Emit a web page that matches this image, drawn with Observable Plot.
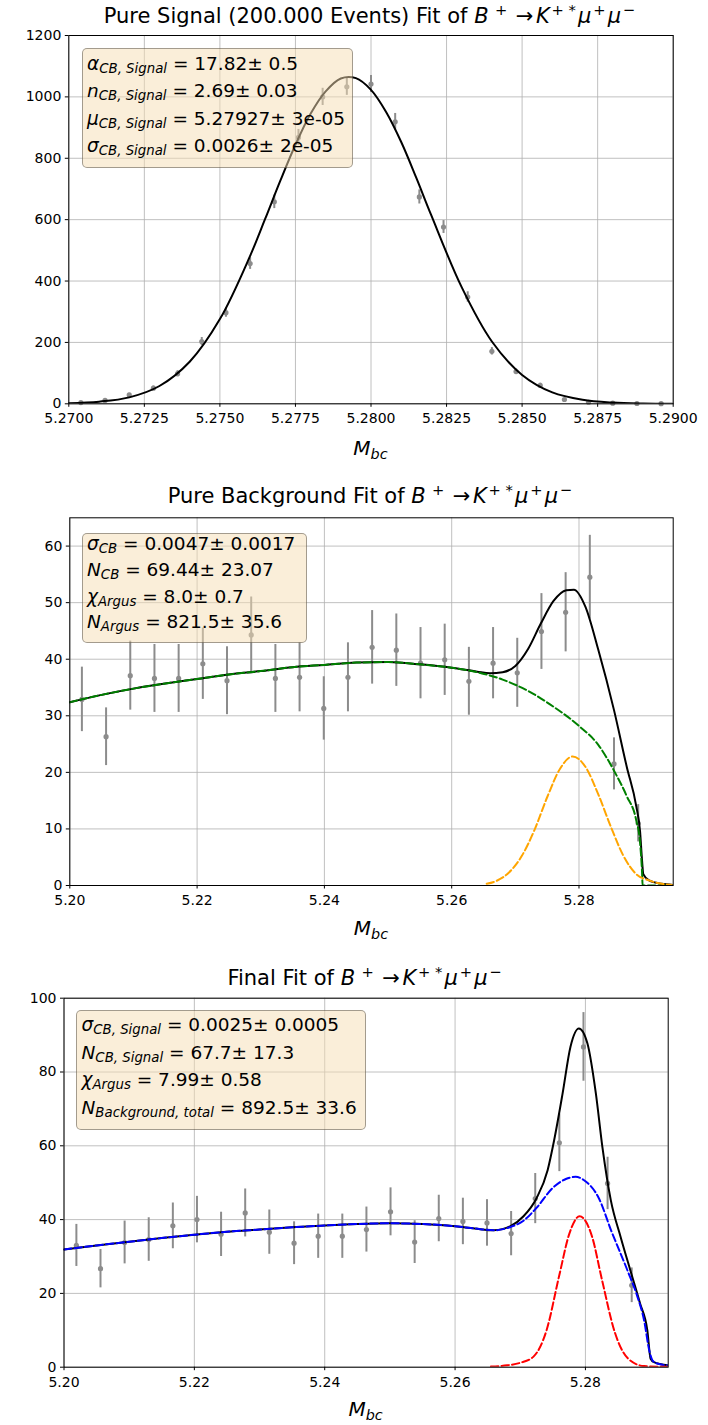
<!DOCTYPE html>
<html><head><meta charset="utf-8">
<script src="https://cdn.jsdelivr.net/npm/d3@7"></script>
<script src="https://cdn.jsdelivr.net/npm/@observablehq/plot@0.6"></script>
<style>
body{margin:0;background:#fff;font-family:"DejaVu Sans",sans-serif;color:#000}
#root{position:relative;width:708px;height:1425px;overflow:hidden}
.panel{position:absolute;left:0}
.ctr{position:absolute;white-space:nowrap;transform:translate(-50%,-50%);line-height:24px}
.ttl{font-size:21px}
.xl{font-size:20px}
.m{font-style:italic}
.sup{font-size:0.7em;position:relative;top:-0.55em;margin:0 0.15em 0 0.12em}
.arr{margin:0 0.12em 0 0.3em}
.sub{font-size:0.72em;position:relative;top:0.25em;font-style:italic}
.box{position:absolute;background:rgba(245,222,179,0.5);border:1px solid rgba(0,0,0,0.35);border-radius:5px;box-sizing:border-box}
.line{position:absolute;white-space:nowrap;font-size:18.5px;height:20px;line-height:20px}
</style></head>
<body><div id="root"></div>
<script>
// ---------- Panel 1: pure signal ----------
const sigX = [5.2704,5.2712,5.2720,5.2728,5.2736,5.2744,5.2752,5.2760,5.2768,5.2776,5.2784,5.2792,5.2800,5.2808,5.2816,5.2824,5.2832,5.2840,5.2848,5.2856,5.2864,5.2872,5.2880,5.2888,5.2896];
const sigY = [4,11,29,51,98,203,297,457,658,868,1000,1033,1042,919,674,576,348,171,105,60,14,5,2,1,0.5];
const sigErr = [2,3,5,7,10,13,15,19,22,26,28,28,28,27,23,21,17,12,9,7,3,2,1,1,0.5];
const fit1X = [5.270,5.271,5.272,5.273,5.274,5.275,5.276,5.2765,5.277,5.2775,5.278,5.2785,5.279,5.2795,5.280,5.2805,5.281,5.2815,5.282,5.283,5.284,5.285,5.286,5.287,5.288,5.289,5.290];
const fit1Y = [2,7,21,58,137,276,482,603,727,844,945,1018,1060,1061,1023,951,853,736,613,380,203,94,37,13,4,1,0.3];
const xTicks1 = [5.27,5.2725,5.275,5.2775,5.28,5.2825,5.285,5.2875,5.29];
const xTickLabels1 = ["5.2700","5.2725","5.2750","5.2775","5.2800","5.2825","5.2850","5.2875","5.2900"];
const yTicks1 = [0,200,400,600,800,1000,1200];

// ---------- Panel 2: pure background ----------
const bgX = [5.2019,5.2057,5.2095,5.2133,5.2171,5.2209,5.2247,5.2285,5.2323,5.2361,5.2399,5.2437,5.2475,5.2513,5.2551,5.2589,5.2627,5.2665,5.2703,5.2741,5.2779,5.2817,5.2855,5.2893];
const bgY = [32.9,26.3,37.1,36.6,36.6,39.2,36.2,44.3,36.6,36.8,31.3,36.8,42.1,41.6,39.3,39.9,36.1,39.3,37.6,44.9,48.3,54.5,21.5,11.0];
const bgErr = [5.7,5.1,6.1,6.0,6.0,6.3,6.0,6.7,6.0,6.1,5.6,6.1,6.5,6.4,6.3,6.3,6.0,6.3,6.1,6.7,7.0,7.4,4.6,3.3];
const total2X = [5.200,5.205,5.210,5.215,5.220,5.225,5.230,5.235,5.240,5.245,5.250,5.255,5.260,5.264,5.266,5.268,5.270,5.272,5.274,5.276,5.278,5.2792,5.281,5.283,5.2855,5.2875,5.289,5.2896,5.2899,5.2901,5.291,5.293,5.2948];
const total2Y = [32.4,33.7,34.8,35.7,36.5,37.3,37.9,38.6,39.0,39.4,39.5,39.1,38.5,37.8,37.5,37.7,38.8,41.8,46.3,50.3,52.2,52.3,49.3,41.8,31.0,21.0,14.0,9.5,4.5,2.0,0.9,0.3,0.1];
const argus2X = [5.200,5.205,5.210,5.215,5.220,5.225,5.230,5.235,5.240,5.245,5.250,5.255,5.260,5.264,5.268,5.272,5.276,5.280,5.283,5.2855,5.2875,5.289,5.2896,5.2899,5.2900,5.2948];
const argus2Y = [32.4,33.7,34.8,35.7,36.5,37.3,37.9,38.6,39.0,39.4,39.5,39.1,38.5,37.7,36.4,34.4,31.6,28.2,24.9,20.3,15.8,11.5,7.5,2.5,0,0];
const cb2X = [5.2655,5.267,5.269,5.271,5.273,5.275,5.277,5.279,5.281,5.283,5.285,5.287,5.289,5.291,5.293,5.2948];
const cb2Y = [0.3,0.8,2.3,5.2,9.8,15.6,20.6,22.8,21.0,16.2,10.4,5.2,2.0,0.9,0.3,0.1];
const xTicks23 = [5.20,5.22,5.24,5.26,5.28];
const xTickLabels23 = ["5.20","5.22","5.24","5.26","5.28"];
const yTicks2 = [0,10,20,30,40,50,60];

// ---------- Panel 3: final fit ----------
const finX = [5.2019,5.2056,5.2093,5.2130,5.2167,5.2204,5.2241,5.2278,5.2315,5.2353,5.2390,5.2427,5.2464,5.2501,5.2538,5.2575,5.2612,5.2649,5.2686,5.2723,5.2760,5.2797,5.2834,5.2871];
const finY = [33.0,26.7,33.8,34.6,38.3,40.0,36.0,41.8,36.6,33.6,35.5,35.5,37.3,42.1,33.9,40.3,39.5,39.1,36.2,45.7,60.8,86.8,49.8,22.2];
const finErr = [5.7,5.2,5.8,5.9,6.2,6.3,6.0,6.5,6.0,5.8,6.0,6.0,6.1,6.5,5.8,6.3,6.3,6.3,6.0,6.8,7.8,9.3,7.1,4.7];
const total3X = [5.200,5.205,5.210,5.215,5.220,5.225,5.230,5.235,5.240,5.245,5.250,5.255,5.260,5.263,5.266,5.2685,5.2705,5.2725,5.2742,5.2752,5.2765,5.2777,5.2790,5.2803,5.2816,5.2826,5.2839,5.2854,5.2869,5.2884,5.2895,5.2900,5.2905,5.2927];
const total3Y = [31.9,33.0,34.0,35.0,35.9,36.7,37.3,37.9,38.4,38.8,39.0,38.8,38.2,37.6,37.1,38.2,40.9,45.8,53.4,61.5,74.2,86.8,91.8,87.8,74.2,59.7,45.2,35.3,26.2,17.2,10.0,2.3,1.4,0.5];
const bkg3X = [5.200,5.205,5.210,5.215,5.220,5.225,5.230,5.235,5.240,5.245,5.250,5.255,5.260,5.263,5.266,5.2685,5.2705,5.2725,5.275,5.277,5.2785,5.280,5.282,5.284,5.2865,5.288,5.289,5.2898,5.2903,5.291,5.2927];
const bkg3Y = [31.9,33.0,34.0,35.0,35.9,36.7,37.3,37.9,38.4,38.8,39.0,38.8,38.2,37.6,37.1,38.0,39.7,43.2,48.6,51.0,51.6,50.4,46.0,36.8,26.0,19.0,12.7,4.5,1.8,1.0,0.5];
const sig3X = [5.2655,5.268,5.270,5.272,5.274,5.276,5.2775,5.2791,5.281,5.2825,5.2845,5.2865,5.289,5.2927];
const sig3Y = [0.2,0.5,1.2,2.8,9.8,25,36,40.9,35.5,24,9.5,2.4,0.3,0.1];
const yTicks3 = [0,20,40,60,80,100];

// ---------- text ----------
const legend1 = [["α","CB, Signal"," = 17.82± 0.5"],["n","CB, Signal"," = 2.69± 0.03"],["μ","CB, Signal"," = 5.27927± 3e-05"],["σ","CB, Signal"," = 0.0026± 2e-05"]];
const legend2 = [["σ","CB"," = 0.0047± 0.0017"],["N","CB"," = 69.44± 23.07"],["χ","Argus"," = 8.0± 0.7"],["N","Argus"," = 821.5± 35.6"]];
const legend3 = [["σ","CB, Signal"," = 0.0025± 0.0005"],["N","CB, Signal"," = 67.7± 17.3"],["χ","Argus"," = 7.99± 0.58"],["N","Background, total"," = 892.5± 33.6"]];
const decay = '<span class="m">B</span><span class="sup"> +</span><span class="arr">→</span><span class="m">K</span><span class="sup">+ *</span><span class="m">μ</span><span class="sup">+</span><span class="m">μ</span><span class="sup">−</span>';
const titles = ["Pure Signal (200.000 Events) Fit of ", "Pure Background Fit of ", "Final Fit of "];
const xLabel = '<span class="m">M</span><span class="sub">bc</span>';

const root = document.getElementById("root");
const gray = "#8c8c8c";
const dash = "7.4,3.2";

function pts(xs, ys, es){ return xs.map((x,i)=>({x, y: ys[i], e: es[i]})); }

function panel(cfg){
  const data = pts(cfg.dx, cfg.dy, cfg.de);
  const fmtX = d => cfg.xLabels[cfg.xTicks.indexOf(d)];
  const marks = [
    Plot.gridX(cfg.xTicks, {stroke:"#b0b0b0", strokeOpacity:1, strokeWidth:0.8}),
    Plot.gridY(cfg.yTicks, {stroke:"#b0b0b0", strokeOpacity:1, strokeWidth:0.8}),
    Plot.ruleX(data, {x:"x", y1:d=>d.y-d.e, y2:d=>d.y+d.e, stroke:gray, strokeWidth:2}),
    Plot.dot(data, {x:"x", y:"y", r:2.6, fill:gray, stroke:null}),
    ...cfg.curves.map(c => Plot.line(c.y, {x:c.x, y:c.y, stroke:c.color, strokeWidth:c.w||2, strokeDasharray:c.dash||null, curve:c.curve||"monotone-x", clip:true})),
    Plot.frame({stroke:"#000", strokeWidth:1}),
    Plot.axisX(cfg.xTicks, {tickFormat:fmtX, tickSize:3.5, tickPadding:6, label:null, fontSize:14}),
    Plot.axisY(cfg.yTicks, {tickFormat:d=>String(d), tickSize:3.5, tickPadding:4, label:null, fontSize:14})
  ];
  const svg = Plot.plot({
    width:708, height:cfg.h,
    marginLeft:cfg.ml, marginRight:cfg.mr, marginTop:cfg.mt, marginBottom:cfg.mb,
    style:{fontFamily:"DejaVu Sans, sans-serif", fontSize:"14px", color:"#000", background:"none", overflow:"visible"},
    x:{domain:cfg.xd, label:null},
    y:{domain:cfg.yd, label:null},
    marks
  });
  const d = document.createElement("div");
  d.className = "panel"; d.style.top = cfg.top + "px";
  d.appendChild(svg); root.appendChild(d);

  const cx = cfg.ml + (708 - cfg.ml - cfg.mr)/2;
  const t = document.createElement("div");
  t.className = "ctr ttl"; t.style.left = cx+"px"; t.style.top = cfg.titleY+"px";
  t.innerHTML = cfg.title + decay; root.appendChild(t);
  const l = document.createElement("div");
  l.className = "ctr xl"; l.style.left = cx+"px"; l.style.top = cfg.labelY+"px";
  l.innerHTML = xLabel; root.appendChild(l);

  const b = document.createElement("div");
  b.className = "box";
  const [bx0,by0,bx1,by1] = cfg.box;
  b.style.left = bx0+"px"; b.style.top = by0+"px";
  b.style.width = (bx1-bx0)+"px"; b.style.height = (by1-by0)+"px";
  root.appendChild(b);
  cfg.legend.forEach((ln,i)=>{
    const e = document.createElement("div");
    e.className = "line";
    e.style.left = cfg.textX+"px"; e.style.top = (cfg.lineY[i]-10)+"px";
    e.innerHTML = '<span class="m">'+ln[0]+'</span><span class="sub">'+ln[1]+'</span>'+ln[2];
    root.appendChild(e);
  });
}

panel({top:0, h:470, ml:68.3, mr:35.3, mt:35, mb:66.7,
  xd:[5.27,5.29], yd:[0,1200], xTicks:xTicks1, xLabels:xTickLabels1, yTicks:yTicks1,
  dx:sigX, dy:sigY, de:sigErr,
  curves:[{x:fit1X, y:fit1Y, color:"#000", curve:"catmull-rom"}],
  title:titles[0], titleY:17, labelY:449,
  box:[81.7,48.3,353.3,168.3], textX:87, lineY:[63.5,91,118.5,146], legend:legend1});

panel({top:470, h:480, ml:69.3, mr:35.3, mt:47.3, mb:65,
  xd:[5.20,5.2948], yd:[0,65], xTicks:xTicks23, xLabels:xTickLabels23, yTicks:yTicks2,
  dx:bgX, dy:bgY, de:bgErr,
  curves:[{x:total2X, y:total2Y, color:"#000"},{x:argus2X, y:argus2Y, color:"green", dash},{x:cb2X, y:cb2Y, color:"orange", dash}],
  title:titles[1], titleY:497, labelY:929,
  box:[81.7,532.7,306.7,643.3], textX:87, lineY:[543.5,570,596.5,622], legend:legend2});

panel({top:950, h:475, ml:63.5, mr:40.3, mt:47.7, mb:58.3,
  xd:[5.20,5.2927], yd:[0,100], xTicks:xTicks23, xLabels:xTickLabels23, yTicks:yTicks3,
  dx:finX, dy:finY, de:finErr,
  curves:[{x:total3X, y:total3Y, color:"#000"},{x:bkg3X, y:bkg3Y, color:"blue", dash},{x:sig3X, y:sig3Y, color:"red", dash}],
  title:titles[2], titleY:979, labelY:1410,
  box:[76,1010,366,1130], textX:81.5, lineY:[1025,1053,1080,1108], legend:legend3});
</script>
</body></html>
